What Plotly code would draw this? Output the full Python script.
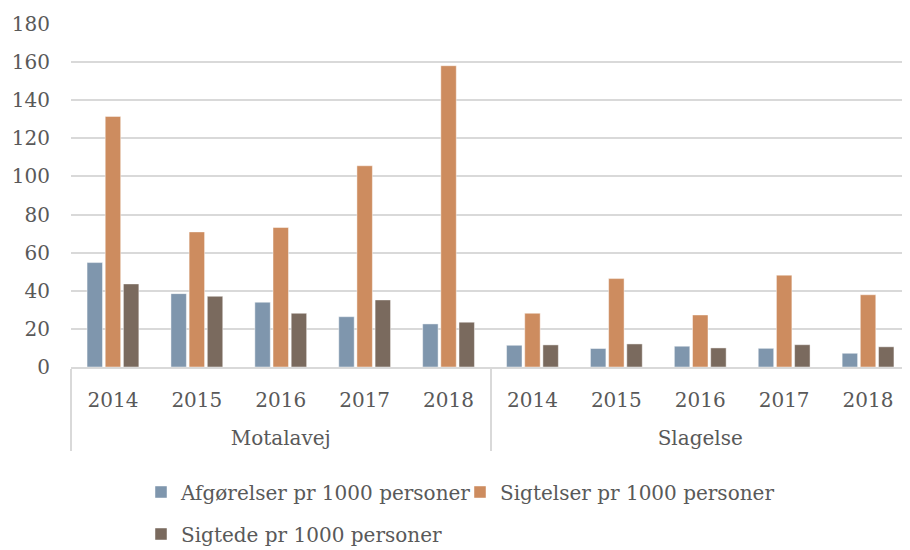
import plotly.graph_objects as go

groups = ["Motalavej"] * 5 + ["Slagelse"] * 5
years = ["2014", "2015", "2016", "2017", "2018"] * 2

afgorelser = [54.8, 38.5, 34.0, 26.4, 22.6, 11.4, 9.7, 10.9, 9.8, 7.2]
sigtelser = [131.5, 70.9, 73.2, 105.6, 158.1, 28.2, 46.4, 27.3, 48.2, 37.9]
sigtede = [43.6, 37.1, 28.2, 35.2, 23.5, 11.6, 12.1, 10.0, 11.7, 10.6]

series_names = ["Afgørelser pr 1000 personer", "Sigtelser pr 1000 personer", "Sigtede pr 1000 personer"]
colors = ["#7f96ad", "#cd8c5f", "#7a6a5e"]
y_ticks = [0, 20, 40, 60, 80, 100, 120, 140, 160, 180]

FONT = "DejaVu Serif"
TXT = "#595959"

# page body has an 8px default margin; the figure is sized to compensate
W, H = 902, 542

group_labels = ["<br>" + g for g in groups]

fig = go.Figure()
for name, vals, col, lg in zip(series_names, [afgorelser, sigtelser, sigtede], colors,
                               ["legend", "legend", "legend2"]):
    fig.add_trace(go.Bar(
        x=[group_labels, years], y=vals, name=name,
        marker=dict(color=col, line=dict(color="rgba(255,255,255,0.45)", width=1)),
        legend=lg,
    ))

legend_common = dict(
    orientation="h", xanchor="left", yanchor="middle",
    xref="container", yref="container",
    font=dict(family=FONT, size=20, color=TXT),
    bgcolor="rgba(0,0,0,0)", itemwidth=30, tracegroupgap=0,
    entrywidth=274, entrywidthmode="pixels",
)

fig.update_layout(
    width=W, height=H,
    margin=dict(l=63, r=0, t=16, b=183, autoexpand=False),
    plot_bgcolor="white", paper_bgcolor="white",
    barmode="group", bargap=0.35, bargroupgap=0.15,
    font=dict(family=FONT, size=20, color=TXT),
    showlegend=True,
    legend=dict(x=133 / W, y=1 - 484 / H, **legend_common),
    legend2=dict(x=133 / W, y=1 - 526 / H, **legend_common),
    yaxis=dict(
        range=[0, 180], tickvals=y_ticks, showgrid=True,
        gridcolor="#d9d9d9", gridwidth=1.5, zeroline=False, showline=False,
        ticks="", ticklabelstandoff=20,
        tickfont=dict(family=FONT, size=20, color=TXT),
    ),
    xaxis=dict(
        type="multicategory", showline=True, linecolor="#d9d9d9", linewidth=1.5,
        showdividers=True, dividercolor="#d9d9d9", dividerwidth=1.5,
        ticks="", ticklabelstandoff=14,
        tickfont=dict(family=FONT, size=20, color=TXT),
    ),
)

fig.write_html("out.html")
